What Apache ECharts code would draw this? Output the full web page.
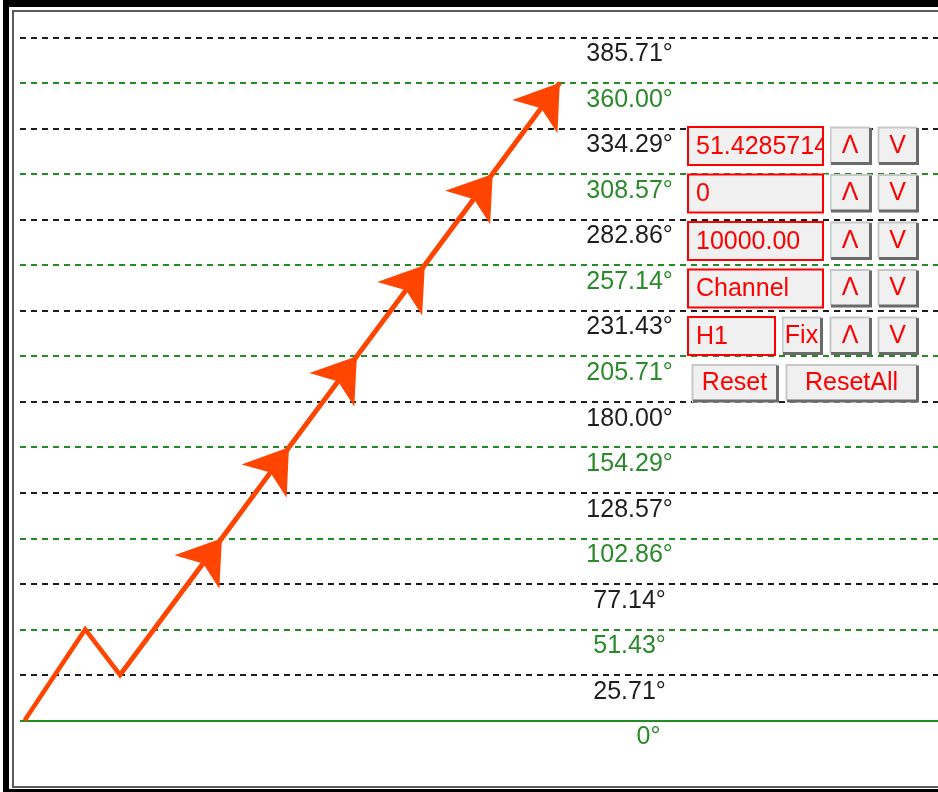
<!DOCTYPE html>
<html><head><meta charset="utf-8">
<script src="https://cdn.jsdelivr.net/npm/echarts@6/dist/echarts.min.js"></script>
<style>html,body{margin:0;padding:0;background:#fff}#c{width:938px;height:792px}</style>
</head><body><div id="c"></div>
<script>
// ---- data ----
const levelValues = [0, 25.71, 51.43, 77.14, 102.86, 128.57, 154.29, 180.00, 205.71, 231.43, 257.14, 282.86, 308.57, 334.29, 360.00, 385.71];
const levelLabels = ['0°', '25.71°', '51.43°', '77.14°', '102.86°', '128.57°', '154.29°', '180.00°', '205.71°', '231.43°', '257.14°', '282.86°', '308.57°', '334.29°', '360.00°', '385.71°'];
const pathX = [0.5, 7.1, 10.9, 58.8];
const pathY = [0, 51.43, 25.71, 360.00];
const arrowX = [22.0, 29.3, 36.7, 44.1, 51.5, 58.8];
const arrowY = [102.86, 154.29, 205.71, 257.14, 308.57, 360.00];
const editTexts = ['51.4285714', '0', '10000.00', 'Channel', 'H1'];
const upText = 'Λ';
const downText = 'V';
const fixText = 'Fix';
const resetTexts = ['Reset', 'ResetAll'];

// ---- style / layout ----
const GREEN = '#228b22';
const GREEN_TXT = '#2a8a2a';
const BLACK = '#1e1e1e';
const ORANGE = '#ff4500';
const RED = '#ff0000';
const FONT = '"Liberation Sans", Arial, sans-serif';
const LABEL_X = 66.4;
const X_MAX = 100;

const chart = echarts.init(document.getElementById('c'), null, {renderer: 'canvas'});

const levelLines = levelValues.map((v, i) => ({
  coords: [[0, v], [X_MAX, v]],
  lineStyle: {
    color: i % 2 ? BLACK : GREEN,
    type: i === 0 ? 'solid' : [6, 5],
    width: 2,
    opacity: 1
  }
}));

const labelData = levelValues.map((v, i) => ({
  value: [LABEL_X, v],
  label: {
    formatter: levelLabels[i],
    color: i % 2 ? BLACK : GREEN_TXT,
    offset: i === 0 ? [19, 17] : [0, 17]
  }
}));

const pathData = pathX.map((x, i) => [x, pathY[i]]);
const arrowSegs = arrowX.map((x, i) => ({
  coords: [
    i === 0 ? [pathX[2], pathY[2]] : [arrowX[i - 1], arrowY[i - 1]],
    [x, arrowY[i]]
  ]
}));

// ---- control panel graphics ----
const rowsY = [127, 174.5, 222, 269.5, 317, 364.5];
const RH = 38;
const g = [];
function edit(x, y, w, text) {
  g.push({type: 'rect', shape: {x: x, y: y, width: w, height: RH}, style: {fill: '#f0f0f0', stroke: null}, z: 100});
  g.push({type: 'text', x: x + 8, y: y + RH / 2 + 1, style: {text: text, fill: RED, font: '25px ' + FONT, textVerticalAlign: 'middle', verticalAlign: 'middle'}, z: 101});
  g.push({type: 'rect', shape: {x: x + w + 1, y: y, width: 6, height: RH}, style: {fill: '#fff'}, z: 102});
  g.push({type: 'rect', shape: {x: x, y: y, width: w, height: RH}, style: {fill: null, stroke: RED, lineWidth: 2}, z: 103});
}
function button(x, y, w, text) {
  g.push({type: 'rect', shape: {x: x, y: y, width: w, height: RH}, style: {fill: '#f0f0f0'}, z: 100});
  g.push({type: 'polyline', shape: {points: [[x + 0.5, y + RH - 2], [x + 0.5, y + 0.5], [x + w - 2, y + 0.5]]}, style: {stroke: '#c8c8c8', lineWidth: 2, fill: null}, z: 101});
  g.push({type: 'polyline', shape: {points: [[x + 1, y + RH - 1.5], [x + w - 1.5, y + RH - 1.5], [x + w - 1.5, y + 1]]}, style: {stroke: '#6a6a6a', lineWidth: 3, fill: null}, z: 101});
  g.push({type: 'text', x: x + w / 2 - 1, y: y + RH / 2, style: {text: text, fill: RED, font: '25px ' + FONT, align: 'center', textAlign: 'center', verticalAlign: 'middle', textVerticalAlign: 'middle'}, z: 102});
}
for (let r = 0; r < 4; r++) {
  edit(688, rowsY[r], 135, editTexts[r]);
  button(830, rowsY[r], 42, upText);
  button(878, rowsY[r], 41, downText);
}
edit(688, rowsY[4], 87, editTexts[4]);
button(782, rowsY[4], 41, fixText);
button(830, rowsY[4], 42, upText);
button(878, rowsY[4], 41, downText);
button(692, rowsY[5], 87, resetTexts[0]);
button(786, rowsY[5], 133, resetTexts[1]);

// frame
g.push({type: 'rect', shape: {x: 3, y: 0, width: 6, height: 792}, style: {fill: '#000'}, z: 110});
g.push({type: 'rect', shape: {x: 3, y: 0, width: 935, height: 7}, style: {fill: '#000'}, z: 110});
g.push({type: 'rect', shape: {x: 3, y: 789, width: 935, height: 3}, style: {fill: '#000'}, z: 110});
g.push({type: 'rect', shape: {x: 12, y: 10, width: 2, height: 778}, style: {fill: '#5a5a5a'}, z: 110});
g.push({type: 'rect', shape: {x: 12, y: 10, width: 926, height: 2}, style: {fill: '#5a5a5a'}, z: 110});
g.push({type: 'rect', shape: {x: 12, y: 786, width: 926, height: 2}, style: {fill: '#5a5a5a'}, z: 110});

chart.setOption({
  animation: false,
  backgroundColor: '#ffffff',
  grid: {left: 20, right: 0, top: 37.3, bottom: 71.5, containLabel: false},
  xAxis: {type: 'value', min: 0, max: X_MAX, show: false},
  yAxis: {type: 'value', min: 0, max: 385.71, show: false},
  series: [
    {
      type: 'lines', coordinateSystem: 'cartesian2d', silent: true, z: 1, clip: false,
      symbol: ['none', 'none'],
      lineStyle: {opacity: 1},
      data: levelLines
    },
    {
      type: 'scatter', symbol: 'circle', symbolSize: 1, silent: true, z: 2, clip: false,
      itemStyle: {opacity: 0},
      label: {show: true, position: 'inside', fontFamily: FONT, fontSize: 25, align: 'center', verticalAlign: 'middle', opacity: 1},
      data: labelData
    },
    {
      type: 'line', showSymbol: false, symbol: 'none', silent: true, z: 3, clip: false,
      lineStyle: {color: ORANGE, width: 4.5, join: 'miter'},
      data: pathData
    },
    {
      type: 'lines', coordinateSystem: 'cartesian2d', silent: true, z: 4, clip: false,
      symbol: ['none', 'arrow'], symbolSize: [31, 42], symbolOffset: [0, 21],
      lineStyle: {color: ORANGE, width: 4.5, opacity: 1},
      itemStyle: {color: ORANGE},
      data: arrowSegs
    }
  ],
  graphic: {elements: g}
});
</script>
</body></html>
